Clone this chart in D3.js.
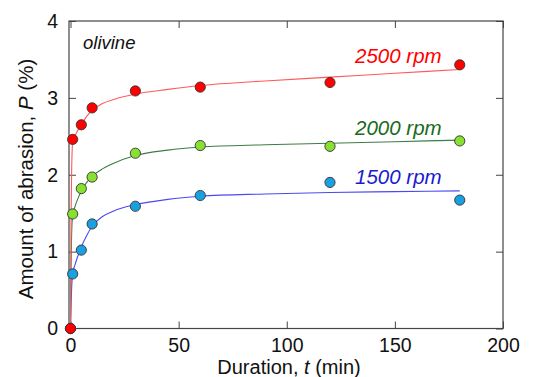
<!DOCTYPE html>
<html><head><meta charset="utf-8">
<script src="https://cdn.jsdelivr.net/npm/d3@7"></script>
<style>
html,body{margin:0;padding:0;background:#fff;}
svg{display:block;font-family:"Liberation Sans",Arial,sans-serif;}
</style></head>
<body><svg id="c" width="534" height="377"></svg>
<script>
// measured data
const times = [0, 1, 5, 10, 30, 60, 120, 180];
const p2500 = [0, 2.46, 2.65, 2.87, 3.09, 3.14, 3.20, 3.43];
const p2000 = [0, 1.49, 1.82, 1.97, 2.28, 2.38, 2.37, 2.44];
const p1500 = [0, 0.71, 1.02, 1.36, 1.59, 1.73, 1.90, 1.67];
// fitted curves
const fitT    = [0, 0.25, 0.5, 1, 2, 3, 5, 7.5, 10, 15, 20, 30, 45, 60, 90, 120, 150, 180];
const fit2500 = [0, 1.4, 2.0, 2.42, 2.5, 2.56, 2.65, 2.76, 2.84, 2.93, 2.98, 3.05, 3.11, 3.16, 3.22, 3.27, 3.32, 3.37];
const fit2000 = [0, 0.8, 1.2, 1.47, 1.58, 1.66, 1.79, 1.9, 1.98, 2.08, 2.15, 2.25, 2.32, 2.36, 2.39, 2.41, 2.43, 2.45];
const fit1500 = [0, 0.3, 0.5, 0.72, 0.82, 0.91, 1.06, 1.21, 1.33, 1.46, 1.53, 1.61, 1.68, 1.72, 1.75, 1.77, 1.78, 1.79];
const xTicks = [0, 50, 100, 150, 200];
const yTicks = [0, 1, 2, 3, 4];
const seriesNames = ["1500 rpm", "2000 rpm", "2500 rpm"];

const svg = d3.select("#c");
const L = 70.5, R = 503, T = 21, B = 328.5;
const x = d3.scaleLinear().domain([0, 200]).range([L, R]);
const y = d3.scaleLinear().domain([0, 4]).range([B, T]);

const series = [
  {name: seriesNames[0], pts: p1500, fit: fit1500, line: "#4a4af0", fill: "#1aa0e0", text: "#1a1ad0", ly: 184},
  {name: seriesNames[1], pts: p2000, fit: fit2000, line: "#3d7d45", fill: "#88e030", text: "#1a6a1a", ly: 135},
  {name: seriesNames[2], pts: p2500, fit: fit2500, line: "#ff5a5a", fill: "#ff0000", text: "#ff0000", ly: 62.5}
];

// frame
const frameColor = "#444";
svg.append("rect").attr("x", L - 1.5).attr("y", T).attr("width", R - L + 1.5).attr("height", B - T)
  .attr("fill", "none").attr("stroke", frameColor).attr("stroke-width", 1.2);

// axes with inward ticks
const tk = 7;
svg.append("g").attr("transform", `translate(0,${B})`)
  .call(d3.axisBottom(x).tickValues(xTicks).tickSize(-tk).tickPadding(tk + 3))
  .call(g => { g.select(".domain").remove(); g.selectAll("line").attr("stroke", frameColor); g.selectAll("text").attr("font-size", 19.5).attr("fill", "#111").attr("font-family", "Liberation Sans, Arial"); });
svg.append("g").attr("transform", `translate(0,${T})`)
  .call(d3.axisTop(x).tickValues(xTicks).tickSize(-tk).tickFormat(""))
  .call(g => { g.select(".domain").remove(); g.selectAll("line").attr("stroke", frameColor); });
svg.append("g").attr("transform", `translate(${L - 1.5},0)`)
  .call(d3.axisLeft(y).tickValues(yTicks).tickSize(-tk).tickPadding(tk + 4).tickFormat(d3.format("d")))
  .call(g => { g.select(".domain").remove(); g.selectAll("line").attr("stroke", frameColor); g.selectAll("text").attr("font-size", 19.5).attr("fill", "#111").attr("font-family", "Liberation Sans, Arial"); });
svg.append("g").attr("transform", `translate(${R},0)`)
  .call(d3.axisRight(y).tickValues(yTicks).tickSize(-tk).tickFormat(""))
  .call(g => { g.select(".domain").remove(); g.selectAll("line").attr("stroke", frameColor); });

// curves
const line = d3.line().x(d => x(d[0])).y(d => y(d[1])).curve(d3.curveMonotoneX);
series.forEach(s => {
  svg.append("path").datum(fitT.map((t, i) => [t, s.fit[i]]))
    .attr("d", line).attr("fill", "none").attr("stroke", s.line).attr("stroke-width", 1.1);
});
// points
series.forEach(s => {
  svg.append("g").selectAll("circle").data(times.map((t, i) => [t, s.pts[i]])).join("circle")
    .attr("cx", d => x(d[0])).attr("cy", d => y(d[1])).attr("r", 5.1)
    .attr("fill", s.fill).attr("stroke", "#333").attr("stroke-width", 0.9);
});
// series labels
series.forEach(s => {
  svg.append("text").attr("x", 355).attr("y", s.ly).attr("font-size", 20.5).attr("font-style", "italic")
    .attr("fill", s.text).text(s.name);
});
svg.append("text").attr("x", 83).attr("y", 48.5).attr("font-size", 18.5).attr("font-style", "italic")
  .attr("fill", "#111").text("olivine");

// axis titles
const xt = svg.append("text").attr("x", 289).attr("y", 373.5).attr("text-anchor", "middle")
  .attr("font-size", 20).attr("fill", "#111");
xt.append("tspan").text("Duration, ");
xt.append("tspan").attr("font-style", "italic").text("t");
xt.append("tspan").text(" (min)");
const yt = svg.append("text").attr("transform", "translate(33,179) rotate(-90)").attr("text-anchor", "middle")
  .attr("font-size", 20.5).attr("fill", "#111");
yt.append("tspan").text("Amount of abrasion, ");
yt.append("tspan").attr("font-style", "italic").text("P");
yt.append("tspan").text(" (%)");
</script></body></html>
